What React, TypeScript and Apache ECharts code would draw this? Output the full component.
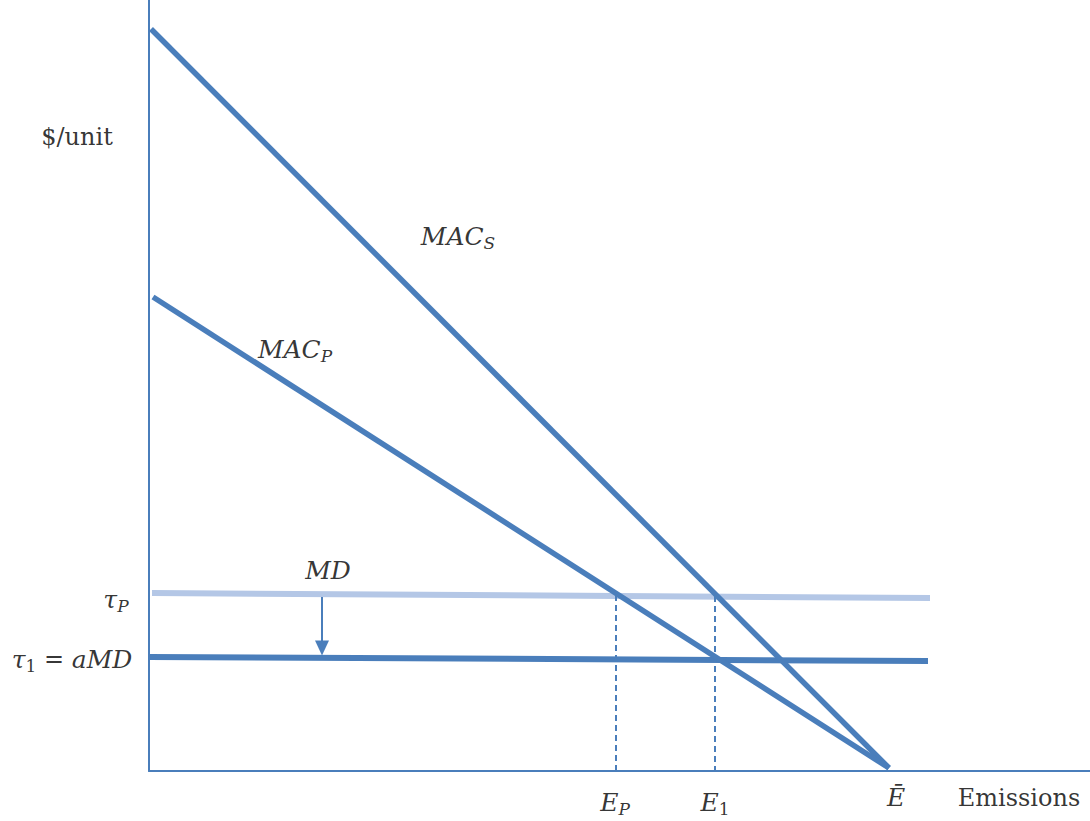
import React, { useEffect, useRef } from "react";
import * as echarts from "echarts";

// Coordinates in chart units: x = emissions, y = $/unit
const macS: number[][] = [[2, 742], [740, 3]];
const macP: number[][] = [[4, 474], [740, 3]];
const tauP: number[][] = [[3, 178], [781, 173]];
const tau1: number[][] = [[0, 114], [779, 110]];
const dashEP: number[][] = [[467, 176], [467, 0]];
const dashE1: number[][] = [[566, 175], [566, 0]];
const arrowPts: number[][] = [[173, 174], [173, 123]];

const BLUE = "#4a7ebb";
const LIGHT = "#b4c7e6";
const MATH = "DejaVu Serif";

const labels: { pos: number[]; text: string }[] = [
  { pos: [-72, 634], text: "{r|$/unit}" },
  { pos: [309, 535], text: "{m|MAC}{s|S}" },
  { pos: [146, 422], text: "{m|MAC}{s|P}" },
  { pos: [179, 201], text: "{m|MD}" },
  { pos: [-33, 172], text: "{m|τ}{s|P}" },
  { pos: [-77, 112], text: "{m|τ}{d|1}{r| = }{m|aMD}" },
  { pos: [466, -31], text: "{m|E}{s|P}" },
  { pos: [566, -31], text: "{m|E}{d|1}" },
  { pos: [747, -26], text: "{m|Ē}" },
  { pos: [870, -27], text: "{r|Emissions}" },
];

export default function App() {
  const ref = useRef<HTMLDivElement>(null);
  useEffect(() => {
    if (!ref.current) return;
    const chart = echarts.init(ref.current, undefined, { renderer: "svg" });
    const lineSeries = (data: number[][], color: string, width: number, type: any = "solid") => ({
      type: "line",
      data,
      symbol: "none",
      lineStyle: { color, width, type },
      silent: true,
      z: 3,
    });
    chart.setOption({
      animation: false,
      backgroundColor: "#ffffff",
      grid: { left: 149, right: 0, top: 0, bottom: 50 },
      xAxis: {
        type: "value",
        min: 0,
        max: 941,
        axisLine: { show: true, onZero: false, lineStyle: { color: BLUE, width: 2 } },
        axisTick: { show: false },
        axisLabel: { show: false },
        splitLine: { show: false },
      },
      yAxis: {
        type: "value",
        min: 0,
        max: 771,
        axisLine: { show: true, onZero: false, lineStyle: { color: BLUE, width: 2 } },
        axisTick: { show: false },
        axisLabel: { show: false },
        splitLine: { show: false },
      },
      series: [
        lineSeries(tauP, LIGHT, 6),
        lineSeries(tau1, BLUE, 6),
        lineSeries(dashEP, BLUE, 2, [6, 4]),
        lineSeries(dashE1, BLUE, 2, [6, 4]),
        lineSeries(macS, BLUE, 5.5),
        lineSeries(macP, BLUE, 5.5),
        {
          type: "line",
          data: [
            { value: arrowPts[0], symbol: "none" },
            { value: arrowPts[1], symbol: "triangle", symbolSize: [14, 15], symbolRotate: 180 },
          ],
          showSymbol: true,
          itemStyle: { color: BLUE },
          lineStyle: { color: BLUE, width: 2 },
          silent: true,
          z: 4,
        },
        {
          type: "scatter",
          clip: false,
          symbolSize: 1,
          itemStyle: { color: "rgba(0,0,0,0)" },
          silent: true,
          data: labels.map((l) => ({ value: l.pos, text: l.text })),
          label: {
            show: true,
            position: "inside",
            formatter: (p: any) => p.data.text,
            color: "#000",
            rich: {
              r: { fontFamily: MATH, fontSize: 24, color: "#000" },
              m: { fontFamily: MATH, fontStyle: "italic", fontSize: 25, color: "#000" },
              s: { fontFamily: MATH, fontStyle: "italic", fontSize: 17, color: "#000", padding: [14, 0, 0, 0] },
              d: { fontFamily: MATH, fontSize: 17, color: "#000", padding: [14, 0, 0, 0] },
            },
          },
        },
      ],
    });
    return () => chart.dispose();
  }, []);
  return (
    <div
      ref={ref}
      style={{ position: "absolute", left: 0, top: 0, width: 1090, height: 821 }}
    />
  );
}
